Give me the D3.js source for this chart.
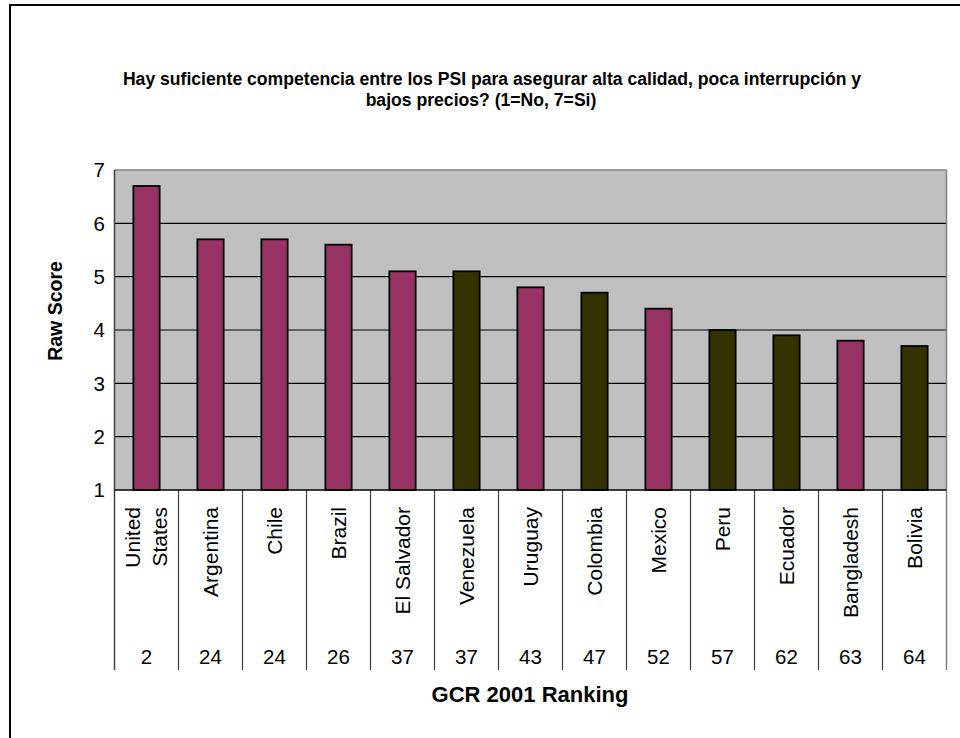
<!DOCTYPE html>
<html>
<head>
<meta charset="utf-8">
<script src="https://cdn.jsdelivr.net/npm/d3@7"></script>
<style>
  html, body { margin: 0; padding: 0; background: #fff; }
  svg { display: block; font-family: "Liberation Sans", Arial, sans-serif; }
</style>
</head>
<body>
<svg id="chart" width="960" height="738"></svg>
<script>
// Survey responses per country (1 = No, 7 = Si)
const countries = ["United States", "Argentina", "Chile", "Brazil", "El Salvador", "Venezuela",
  "Uruguay", "Colombia", "Mexico", "Peru", "Ecuador", "Bangladesh", "Bolivia"];
const scores = [6.7, 5.7, 5.7, 5.6, 5.1, 5.1, 4.8, 4.7, 4.4, 4.0, 3.9, 3.8, 3.7];
const gcrRanking = [2, 24, 24, 26, 37, 37, 43, 47, 52, 57, 62, 63, 64];
const groups = ["a", "a", "a", "a", "a", "b", "a", "b", "a", "b", "b", "a", "b"];
const yTicks = [1, 2, 3, 4, 5, 6, 7];

const titleLines = [
  "Hay suficiente competencia entre los PSI para asegurar alta calidad, poca interrupción y",
  "bajos precios? (1=No, 7=Si)"
];

const svg = d3.select("#chart");
const plot = { left: 114.5, right: 946.5, top: 170, bottom: 490 };
const tableBottom = 670;

const x = d3.scaleBand().domain(countries).range([plot.left, plot.right]).padding(0);
const y = d3.scaleLinear().domain([1, 7]).range([plot.bottom, plot.top]);
const color = d3.scaleOrdinal().domain(["a", "b"]).range(["#993366", "#333300"]);

// Outer frame
svg.append("rect")
  .attr("x", 10).attr("y", 5).attr("width", 1000).attr("height", 800)
  .attr("fill", "none").attr("stroke", "#000").attr("stroke-width", 2);

// Title
svg.append("g")
  .selectAll("text").data(titleLines).join("text")
  .attr("x", (d, i) => i === 0 ? 492 : 481)
  .attr("y", (d, i) => 85 + i * 21)
  .attr("text-anchor", "middle")
  .attr("font-size", 17.6).attr("font-weight", "bold")
  .text(d => d);

// Plot background
svg.append("rect")
  .attr("x", plot.left).attr("y", plot.top)
  .attr("width", plot.right - plot.left).attr("height", plot.bottom - plot.top)
  .attr("fill", "#c0c0c0");

// Gridlines
svg.append("g")
  .selectAll("line").data(yTicks.filter(t => t > 1 && t < 7)).join("line")
  .attr("x1", plot.left).attr("x2", plot.right)
  .attr("y1", d => y(d)).attr("y2", d => y(d))
  .attr("stroke", "#000").attr("stroke-width", 1.2);

// Plot frame (top/right gray)
svg.append("line").attr("x1", plot.left).attr("x2", plot.right)
  .attr("y1", plot.top).attr("y2", plot.top).attr("stroke", "#808080").attr("stroke-width", 1.5);
svg.append("line").attr("x1", plot.right).attr("x2", plot.right)
  .attr("y1", plot.top).attr("y2", tableBottom).attr("stroke", "#808080").attr("stroke-width", 1.5);

// Bars
const barW = x.bandwidth() * 0.41;
svg.append("g")
  .selectAll("rect").data(countries).join("rect")
  .attr("x", d => x(d) + (x.bandwidth() - barW) / 2)
  .attr("y", (d, i) => y(scores[i]))
  .attr("width", barW)
  .attr("height", (d, i) => y(1) - y(scores[i]))
  .attr("fill", (d, i) => color(groups[i]))
  .attr("stroke", "#000").attr("stroke-width", 1.8);

// Y axis labels
svg.append("g")
  .selectAll("text").data(yTicks).join("text")
  .attr("x", 105).attr("y", d => y(d)).attr("dy", "0.36em")
  .attr("text-anchor", "end").attr("font-size", 20.5)
  .text(d => d);

// Left axis line
svg.append("line").attr("x1", plot.left).attr("x2", plot.left)
  .attr("y1", plot.top).attr("y2", tableBottom).attr("stroke", "#404040").attr("stroke-width", 1.5);

// Category table: separators
svg.append("g")
  .selectAll("line").data(countries.slice(1)).join("line")
  .attr("x1", d => x(d)).attr("x2", d => x(d))
  .attr("y1", plot.bottom).attr("y2", tableBottom)
  .attr("stroke", "#404040").attr("stroke-width", 1.2);

// Bottom axis line
svg.append("line").attr("x1", plot.left).attr("x2", plot.right)
  .attr("y1", plot.bottom).attr("y2", plot.bottom).attr("stroke", "#000").attr("stroke-width", 1.5);

// Country names, rotated
const names = svg.append("g").selectAll("text").data(countries).join("text")
  .attr("transform", d => `translate(${x(d) + x.bandwidth() / 2},507) rotate(-90)`)
  .attr("text-anchor", "end").attr("font-size", 21);
names.each(function (d) {
  const parts = d === "United States" ? ["United", "States"] : [d];
  const t = d3.select(this);
  const off = (parts.length - 1) * 13.5;
  parts.forEach((p, i) => {
    t.append("tspan").attr("x", 0).attr("y", -off + i * 27).attr("dy", "0.35em").text(p);
  });
});

// Ranking row
svg.append("g").selectAll("text").data(countries).join("text")
  .attr("x", d => x(d) + x.bandwidth() / 2).attr("y", 664)
  .attr("text-anchor", "middle").attr("font-size", 20.5)
  .text((d, i) => gcrRanking[i]);

// Axis titles
svg.append("text")
  .attr("transform", "translate(55,311) rotate(-90)")
  .attr("text-anchor", "middle").attr("dy", "0.35em")
  .attr("font-size", 19.5).attr("font-weight", "bold")
  .text("Raw Score");

svg.append("text")
  .attr("x", 530).attr("y", 702)
  .attr("text-anchor", "middle")
  .attr("font-size", 22).attr("font-weight", "bold")
  .text("GCR 2001 Ranking");
</script>
</body>
</html>
